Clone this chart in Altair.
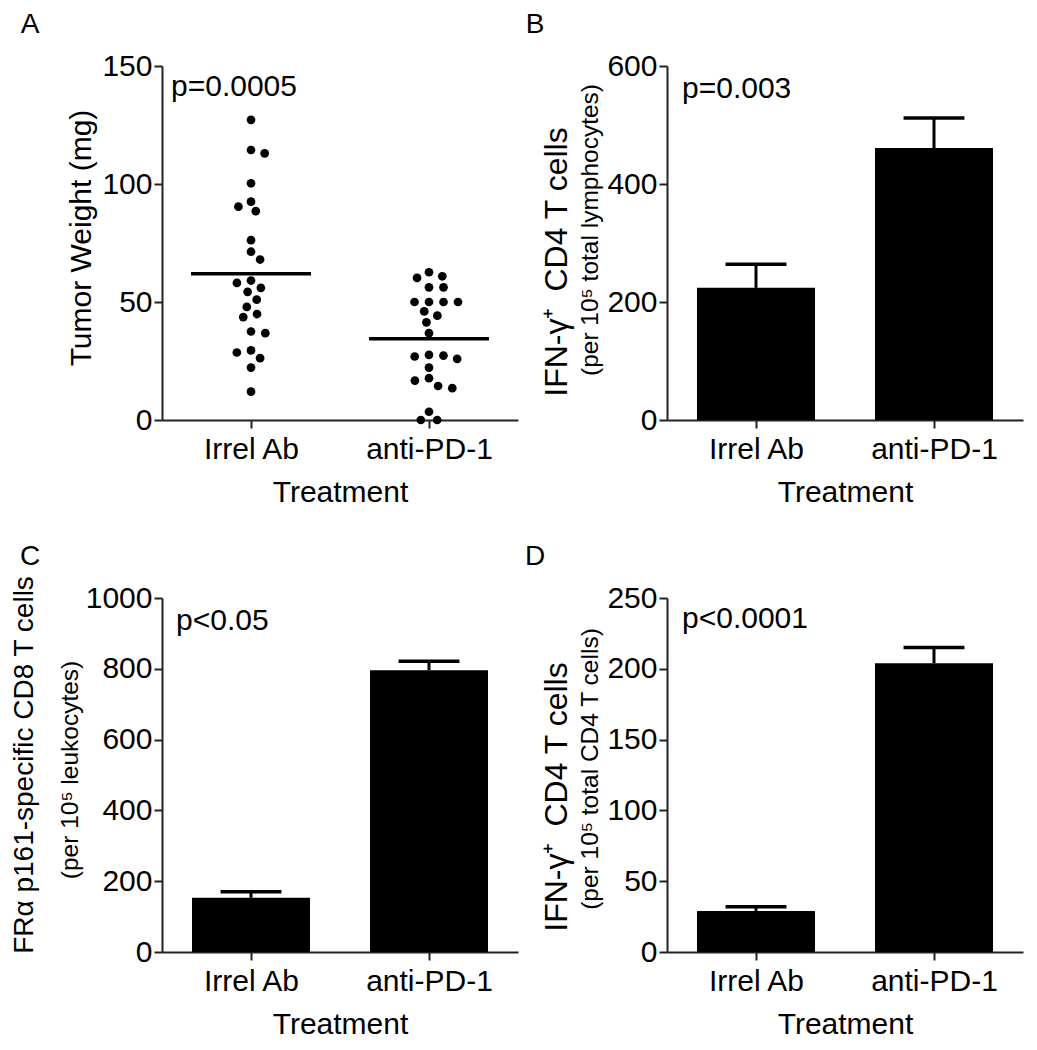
import math
import altair as alt
import pandas as pd

FONT = "Liberation Sans"

groups = ["Irrel Ab", "anti-PD-1"]

# Panel A: tumor weight (mg), individual mice
tumor_irrel = [127.2, 114.4, 113.0, 100.3, 92.5, 90.4, 88.5, 76.2, 71.3, 68.0,
               59.1, 58.1, 56.0, 54.3, 51.0, 47.9, 44.9, 43.6, 37.5, 36.8,
               29.5, 28.6, 26.2, 22.2, 12.0]
tumor_pd1 = [62.6, 60.9, 60.2, 56.2, 56.2, 50.0, 50.0, 50.0, 50.0, 46.0,
             44.2, 41.4, 36.8, 27.6, 27.3, 26.9, 25.9, 22.2, 17.7, 16.7,
             14.4, 13.5, 3.5, 0.0, 0.0]

# Panel B: IFN-g+ CD4 T cells per 1e5 lymphocytes (mean, mean+SEM)
b_mean = [224, 461]
b_top = [264, 512]
# Panel C: FRa p161-specific CD8 T cells per 1e5 leukocytes
c_mean = [153, 796]
c_top = [170, 821]
# Panel D: IFN-g+ CD4 T cells per 1e5 CD4 T cells
d_mean = [29, 204]
d_top = [32, 215]

W, H = 356, 354
XDOM = [-0.5, 1.5]
UNIT_PX = W / (XDOM[1] - XDOM[0])

def x_axis():
    return alt.Axis(values=[0, 1], labelExpr="datum.value == 0 ? 'Irrel Ab' : 'anti-PD-1'",
                    title="Treatment", labelPadding=6, titlePadding=13)

def y_axis(vals):
    return alt.Axis(values=vals, title=None, labelPadding=2, format="d")

def beeswarm(values, ymax, rx=14.5, ry=10.0):
    """Greedy beeswarm offsets (in x data units) using an elliptical spacing."""
    pys = [v / ymax * H for v in values]
    order = sorted(range(len(values)), key=lambda i: -values[i])
    placed = []
    offs = [0.0] * len(values)
    flip = 1
    for i in order:
        y = pys[i]
        intervals = []
        for (px, py) in placed:
            dy = abs(py - y)
            if dy < ry:
                half = rx * math.sqrt(1 - (dy / ry) ** 2)
                intervals.append((px - half, px + half))
        cands = [0.0]
        for a, b in intervals:
            cands += [a, b]
        def ok(c):
            return all(not (a + 1e-6 < c < b - 1e-6) for a, b in intervals)
        good = [c for c in cands if ok(c)]
        best_abs = min(abs(c) for c in good)
        tied = [c for c in good if abs(abs(c) - best_abs) < 1e-6]
        if len(tied) > 1:
            c = max(tied) if flip > 0 else min(tied)
            flip = -flip
        else:
            c = tied[0]
        placed.append((c, y))
        offs[i] = c / UNIT_PX
    return offs

def y_title_layer(main, sub, main_dx, main_dy, sub_dx, sub_dy, main_size=31.5):
    layers = [alt.Chart(pd.DataFrame({"t": [main]})).mark_text(
        angle=270, font=FONT, fontSize=main_size, color="black", align="center", baseline="middle"
    ).encode(x=alt.value(main_dx), y=alt.value(H / 2 + main_dy), text="t:N")]
    if sub:
        layers.append(alt.Chart(pd.DataFrame({"t": [sub]})).mark_text(
            angle=270, font=FONT, fontSize=24.5, color="black", align="center", baseline="middle"
        ).encode(x=alt.value(sub_dx), y=alt.value(H / 2 + sub_dy), text="t:N"))
    return layers

def annot_layers(letter, ptext, px, py):
    return [
        alt.Chart(pd.DataFrame({"t": [letter]})).mark_text(
            font=FONT, fontSize=28, color="black", align="center", baseline="middle"
        ).encode(x=alt.value(-132), y=alt.value(-41), text="t:N"),
        alt.Chart(pd.DataFrame({"t": [ptext]})).mark_text(
            font=FONT, fontSize=30, color="black", align="left", baseline="middle"
        ).encode(x=alt.value(px), y=alt.value(py), text="t:N"),
    ]

# ---- Panel A ----
offs_a = beeswarm(tumor_irrel, 150)
offs_b = beeswarm(tumor_pd1, 150)
dots_df = pd.DataFrame({
    "group": [groups[0]] * len(tumor_irrel) + [groups[1]] * len(tumor_pd1),
    "idx": [0] * len(tumor_irrel) + [1] * len(tumor_pd1),
    "value": tumor_irrel + tumor_pd1,
    "off": offs_a + offs_b,
})
xs = alt.Scale(domain=XDOM, nice=False, zero=False)
ysA = alt.Scale(domain=[0, 150], nice=False)
dots = alt.Chart(dots_df).transform_calculate(xpos="datum.idx + datum.off").mark_circle(
    size=76, color="black", opacity=1
).encode(
    x=alt.X("xpos:Q", scale=xs, axis=x_axis()),
    y=alt.Y("value:Q", scale=ysA, axis=y_axis([0, 50, 100, 150])),
)
mean_line = alt.Chart(dots_df).transform_aggregate(
    m="mean(value)", groupby=["idx"]
).transform_calculate(a="datum.idx - 0.337", b="datum.idx + 0.337").mark_rule(
    color="black", strokeWidth=3.5
).encode(x=alt.X("a:Q", scale=xs), x2="b:Q", y=alt.Y("m:Q", scale=ysA))

panelA = alt.layer(
    dots, mean_line,
    *y_title_layer("Tumor Weight (mg)", None, -80, -5, 0, 0, main_size=30),
    *annot_layers("A", "p=0.0005", 9, 21),
).properties(width=W, height=H)

def bar_panel(means, tops, dom, ticks, letter, ptext, main, sub, main_dx, main_dy,
              sub_dx, sub_dy, px, py, main_size=31.5):
    df = pd.DataFrame({"group": groups, "idx": [0, 1], "mean": means, "top": tops})
    ys = alt.Scale(domain=dom, nice=False)
    base = alt.Chart(df).transform_calculate(
        x0="datum.idx - 0.3315", x1="datum.idx + 0.3315",
        c0="datum.idx - 0.171", c1="datum.idx + 0.171", zero="0"
    )
    bars = base.mark_rect(color="black").encode(
        x=alt.X("x0:Q", scale=xs, axis=x_axis()), x2="x1:Q",
        y=alt.Y("mean:Q", scale=ys, axis=y_axis(ticks)), y2="zero:Q",
    )
    stem = base.mark_rule(color="black", strokeWidth=3).encode(
        x=alt.X("idx:Q", scale=xs), y=alt.Y("mean:Q", scale=ys), y2="top:Q"
    )
    cap = base.mark_rule(color="black", strokeWidth=3.5).encode(
        x=alt.X("c0:Q", scale=xs), x2="c1:Q", y=alt.Y("top:Q", scale=ys)
    )
    return alt.layer(
        bars, stem, cap,
        *y_title_layer(main, sub, main_dx, main_dy, sub_dx, sub_dy, main_size),
        *annot_layers(letter, ptext, px, py),
    ).properties(width=W, height=H)

IFN = "IFN-γ⁺\u2002CD4 T cells"
panelB = bar_panel(b_mean, b_top, [0, 600], [0, 200, 400, 600], "B", "p=0.003",
                   IFN, "(per 10⁵ total lymphocytes)", -110, 19, -76, -13, 15, 23, main_size=32)
panelC = bar_panel(c_mean, c_top, [0, 1000], [0, 200, 400, 600, 800, 1000], "C", "p<0.05",
                   "FRα p161-specific CD8 T cells", "(per 10⁵ leukocytes)", -137, -10, -91, -5, 14, 23,
                   main_size=28)
panelD = bar_panel(d_mean, d_top, [0, 250], [0, 50, 100, 150, 200, 250], "D", "p<0.0001",
                   IFN, "(per 10⁵ total CD4 T cells)", -110, 22, -76, -6, 15, 21, main_size=32)

chart = alt.concat(
    panelA, panelB, panelC, panelD, columns=2,
    spacing=alt.RowColnumber(row=178, column=149), bounds="flush"
).configure_view(
    strokeWidth=0
).configure_axis(
    grid=False, domainColor="#222222", domainWidth=2, tickColor="#222222", tickWidth=2,
    tickSize=8, labelFont=FONT, labelFontSize=30, labelColor="black",
    titleFont=FONT, titleFontSize=30, titleColor="black", titleFontWeight="normal",
).properties(background="white", padding={"left": 3, "top": 3, "right": 5, "bottom": 5})

chart.save("out.html", embed_options={"renderer": "svg", "actions": False})
